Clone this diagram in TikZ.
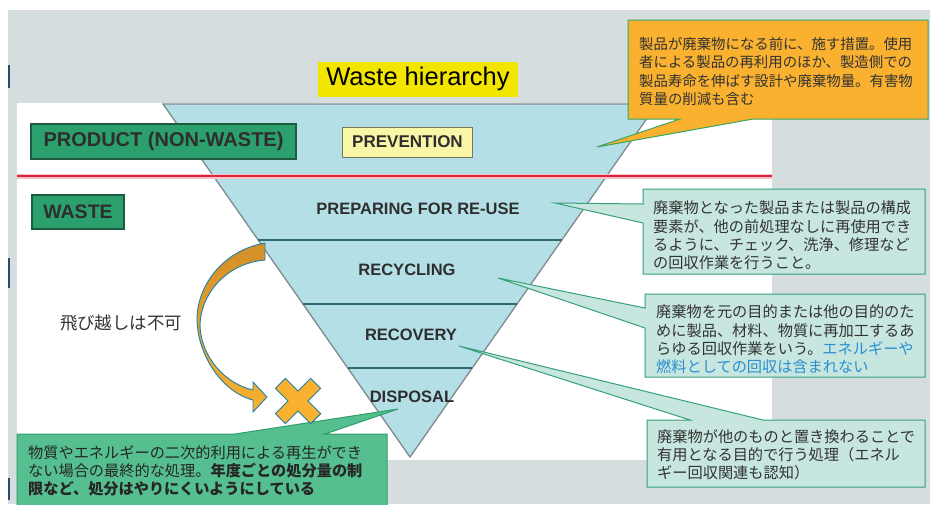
\documentclass[tikz,border=0pt]{standalone}
\usepackage{fontspec}
\setmainfont{Liberation Sans}
\newfontfamily\jp{Noto Sans CJK JP}
\definecolor{panel}{HTML}{D5DDDF}
\definecolor{tri}{HTML}{B4DFE7}
\definecolor{triedge}{HTML}{7E8A8C}
\definecolor{bandline}{HTML}{2F6A6E}
\definecolor{gbox}{HTML}{2CA06C}
\definecolor{gboxd}{HTML}{1E5A3E}
\definecolor{ybox}{HTML}{FAF6A8}
\definecolor{yboxd}{HTML}{77775A}
\definecolor{wh}{HTML}{F2E600}
\definecolor{oran}{HTML}{F9B12F}
\definecolor{oranedge}{HTML}{3DA55D}
\definecolor{teal}{HTML}{C6E6DF}
\definecolor{tealedge}{HTML}{36A07A}
\definecolor{gcall}{HTML}{55BF8F}
\definecolor{gcalld}{HTML}{2F9E6A}
\definecolor{redline}{HTML}{E2203A}
\definecolor{halo}{HTML}{F6C2CA}
\definecolor{arrowtop}{HTML}{D38F28}
\definecolor{arrowbot}{HTML}{F7B230}
\definecolor{arrowedge}{HTML}{1C80A8}
\definecolor{txt}{HTML}{333333}
\definecolor{bluetxt}{HTML}{2A8FD0}
\definecolor{edgemark}{HTML}{2B4A6B}
\begin{document}
\begin{tikzpicture}[x=1pt,y=-1pt,
  lab/.style={inner sep=0pt, text=black!82, font=\bfseries\fontsize{16.5}{18}\selectfont},
  greenlab/.style={draw=gboxd, line width=1.2pt, fill=gbox, inner sep=0pt, text=black!82},
  callout/.style={line width=1pt},
  jptext/.style={anchor=north west, inner sep=0pt, align=left, text=txt},
]
\useasboundingbox (0,0) rectangle (930,504);
\fill[white] (0,0) rectangle (930,504);
\fill[panel] (8,10) rectangle (930,504);
\fill[white] (17,103) rectangle (772,460);
% left edge marks
\draw[edgemark, line width=1.6pt] (9,65) -- (9,88);
\draw[edgemark, line width=1.6pt] (9,258) -- (9,288);
\draw[edgemark, line width=1.6pt] (9,478) -- (9,500);

% title box
\node[fill=wh, minimum width=200pt, minimum height=35pt, inner sep=0pt,
      font=\fontsize{25.5}{27}\selectfont] (title) at (418,79) {Waste hierarchy};

% triangle
\coordinate (tl) at (163,104);
\coordinate (tr) at (657,104);
\coordinate (ap) at (410,457);
\filldraw[fill=tri, draw=triedge, line width=1.3pt] (tl) -- (tr) -- (ap) -- cycle;
\draw[bandline, line width=1.2pt] (258.2,240) -- (561.8,240);
\draw[bandline, line width=1.2pt] (303,304) -- (517,304);
\draw[bandline, line width=1.2pt] (347.8,368) -- (472.2,368);

% red separator
\draw[halo, line width=5pt] (17,176) -- (772,176);
\draw[redline, line width=1.8pt] (17,176) -- (772,176);

% left labels
\node[greenlab, minimum width=265pt, minimum height=35pt,
      font=\bfseries\fontsize{20}{21}\selectfont] (product) at (163.5,141.5) {PRODUCT (NON-WASTE)};
\node[greenlab, minimum width=92pt, minimum height=34pt,
      font=\bfseries\fontsize{19.5}{21}\selectfont] (waste) at (78,212) {WASTE};

% stage labels
\node[draw=yboxd, line width=1pt, fill=ybox, minimum width=130pt, minimum height=30pt,
      inner sep=0pt, text=black!82, font=\bfseries\fontsize{17}{18}\selectfont] (prev) at (407.5,142) {PREVENTION};
\node[lab] (reuse) at (418,209) {PREPARING FOR RE-USE};
\node[lab] (recyc) at (407,270) {RECYCLING};
\node[lab] (recov) at (411,335) {RECOVERY};
\node[lab] (disp) at (412,397) {DISPOSAL};

% callout tips
\coordinate (t1) at (597,147);
\coordinate (t2) at (555,203);
\coordinate (t3) at (498,278);
\coordinate (t4) at (459,346);
\coordinate (t5) at (398,409);

% orange callout (prevention)
\filldraw[callout, fill=oran, draw=oranedge]
  (628,20) -- (928,20) -- (928,119) -- (753,119) -- (t1) -- (680,119) -- (628,119) -- cycle;
\node[jptext, font=\jp\fontsize{14.4}{18.3}\selectfont] (c1) at (639,36.8)
 {\rule{0pt}{0.88em}製品が廃棄物になる前に、施す措置。使用\\
  者による製品の再利用のほか、製造側での\\
  製品寿命を伸ばす設計や廃棄物量。有害物\\
  質量の削減も含む};

% teal callout (reuse)
\filldraw[callout, fill=teal, draw=tealedge]
  (643,189) -- (925,189) -- (925,274) -- (643,274) -- (643,223) -- (t2) -- (643,204) -- cycle;
\node[jptext, font=\jp\fontsize{15.2}{18.3}\selectfont] (c2) at (653,200.4)
 {\rule{0pt}{0.88em}廃棄物となった製品または製品の構成\\
  要素が、他の前処理なしに再使用でき\\
  るように、チェック、洗浄、修理など\\
  の回収作業を行うこと。};

% teal callout (recycling)
\filldraw[callout, fill=teal, draw=tealedge]
  (645,294) -- (925,294) -- (925,377) -- (645,377) -- (645,328) -- (t3) -- (645,308) -- cycle;
\node[jptext, font=\jp\fontsize{15.2}{18.3}\selectfont] (c3) at (656,304.4)
 {\rule{0pt}{0.88em}廃棄物を元の目的または他の目的のた\\
  めに製品、材料、物質に再加工するあ\\
  らゆる回収作業をいう。\textcolor{bluetxt}{エネルギーや}\\
  \textcolor{bluetxt}{燃料としての回収は含まれない}};

% teal callout (recovery)
\filldraw[callout, fill=teal, draw=tealedge]
  (647,420) -- (690,420) -- (t4) -- (763,420) -- (925,420) -- (925,487) -- (647,487) -- cycle;
\node[jptext, font=\jp\fontsize{15.2}{17.8}\selectfont] (c4) at (657,429.4)
 {\rule{0pt}{0.88em}廃棄物が他のものと置き換わることで\\
  有用となる目的で行う処理（エネル\\
  ギー回収関連も認知）};

% green callout (disposal)
\filldraw[callout, fill=gcall, draw=gcalld]
  (17,434) -- (235,434) -- (t5) -- (325,434) -- (387,434) -- (387,506) -- (17,506) -- cycle;
\node[jptext, text=black!85, font=\jp\fontsize{15.2}{18}\selectfont] (c5) at (28,445.4)
 {\rule{0pt}{0.88em}物質やエネルギーの二次的利用による再生ができ\\
  ない場合の最終的な処理。\textbf{年度ごとの処分量の制}\\
  \textbf{限など、処分はやりにくいようにしている}};

% skip note
\node[inner sep=0pt, text=txt, font=\jp\fontsize{17.4}{19}\selectfont] (skip) at (121,323) {飛び越しは不可};

% curved arrow
\shadedraw[top color=arrowtop, bottom color=arrowbot, draw=arrowedge, line width=0.9pt, line join=miter]
  (265,243) .. controls (225,250) and (198,283) .. (197,318)
  .. controls (197,355) and (222,392) .. (253,400)
  -- (253,412) -- (267,397) -- (253,382) -- (253,390)
  .. controls (226,384) and (201,358) .. (200,325)
  .. controls (201,292) and (228,263) .. (265,260) -- cycle;

% cross
\begin{scope}[shift={(298,401)}, rotate=45]
\filldraw[fill=oran, draw=arrowedge, line width=0.9pt]
  (-7,25) -- (7,25) -- (7,7) -- (25,7) -- (25,-7) -- (7,-7) -- (7,-25) -- (-7,-25)
  -- (-7,-7) -- (-25,-7) -- (-25,7) -- (-7,7) -- cycle;
\end{scope}
\end{tikzpicture}
\end{document}
